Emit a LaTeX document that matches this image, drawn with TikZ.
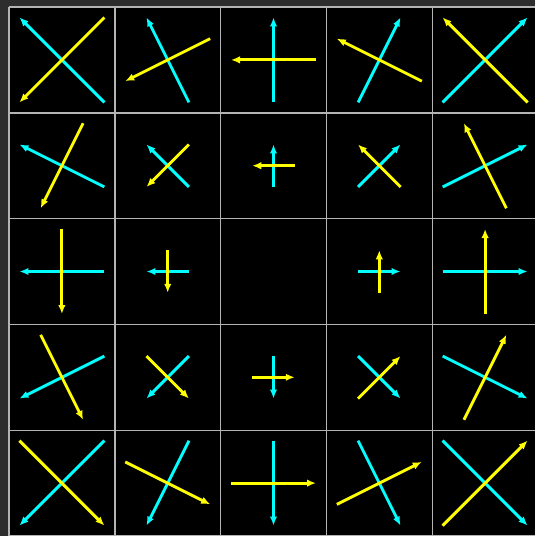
\documentclass[tikz,border=0pt]{standalone}
\usetikzlibrary{arrows.meta,calc}
\definecolor{bg}{HTML}{2D2D2D}
\definecolor{gridc}{HTML}{B4B4B4}
\definecolor{cy}{HTML}{00FFFF}
\definecolor{ye}{HTML}{FFFF00}
\begin{document}
\begin{tikzpicture}[x=1pt,y=-1pt,
  vec/.style={line width=2.9pt,-{Latex[length=9pt,width=7.5pt]}},
  gridline/.style={gridc,line width=1.4pt}]
\useasboundingbox (0,0) rectangle (535,536);
\fill[bg] (0,0) rectangle (535,536);
\begin{scope}
  \clip (0,0) rectangle (535,536);
  \fill[black] (9,7) rectangle (538,536);
  \foreach \i in {0,...,5}{
    \draw[gridline] (9+105.8*\i,7) -- (9+105.8*\i,536);
    \draw[gridline] (9,7+105.8*\i) -- (540,7+105.8*\i);
  }
  \foreach \col in {0,...,4}{
    \foreach \row in {0,...,4}{
      \pgfmathsetmacro\gx{\col-2}
      \pgfmathsetmacro\gy{2-\row}
      \pgfmathsetmacro\rr{sqrt(\gx*\gx+\gy*\gy)}
      \coordinate (c\col\row) at (9+105.8*\col+52.9, 7+105.8*\row+52.9);
      \ifdim\rr pt>0.01pt
        \pgfmathsetmacro\ang{atan2(\gy,\gx)}
        \pgfmathsetmacro\h{21.25*\rr}
        \draw[vec,cy] ($(c\col\row)+(-\ang+180:\h)$) -- ($(c\col\row)+(-\ang:\h)$);
        \draw[vec,ye] ($(c\col\row)+(-\ang+90:\h)$) -- ($(c\col\row)+(-\ang-90:\h)$);
      \fi
    }
  }
\end{scope}
\end{tikzpicture}
\end{document}
